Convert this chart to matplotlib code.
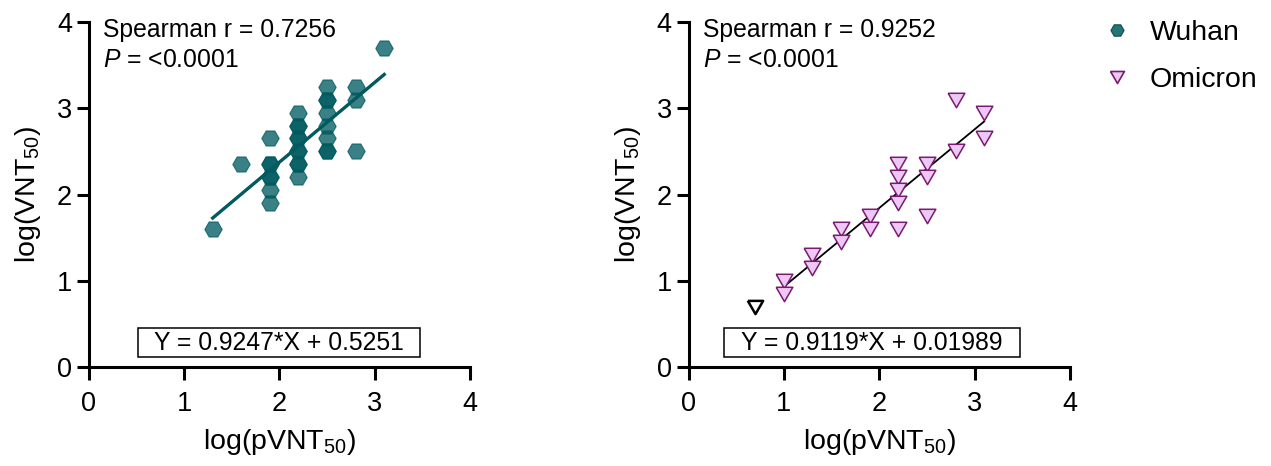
import numpy as np
import matplotlib
matplotlib.use("Agg")
import matplotlib.pyplot as plt
from matplotlib.lines import Line2D
from matplotlib.patches import Rectangle

plt.rcParams['font.family'] = ['Liberation Sans', 'DejaVu Sans']
plt.rcParams['mathtext.fontset'] = 'custom'
plt.rcParams['mathtext.rm'] = 'Liberation Sans'
plt.rcParams['mathtext.it'] = 'Liberation Sans:italic'

# Wuhan: log(pVNT50) vs log(VNT50)
wuhan_x = [1.3, 1.6,
           1.9, 1.9, 1.9, 1.9, 1.9, 1.9, 1.9,
           2.2, 2.2, 2.2, 2.2, 2.2, 2.2, 2.2, 2.2, 2.2, 2.2,
           2.5, 2.5, 2.5, 2.5, 2.5, 2.5, 2.5, 2.5,
           2.8, 2.8, 2.8, 3.1]
wuhan_y = [1.6, 2.35,
           2.65, 2.35, 2.35, 2.2, 2.2, 2.05, 1.9,
           2.95, 2.8, 2.8, 2.65, 2.65, 2.5, 2.5, 2.35, 2.35, 2.2,
           3.25, 3.1, 3.1, 2.95, 2.8, 2.65, 2.5, 2.5,
           3.25, 3.1, 2.5, 3.7]

# Omicron
omicron_x = [1.0, 1.0, 1.3, 1.3, 1.6, 1.6, 1.9, 1.9,
             2.2, 2.2, 2.2, 2.2, 2.2, 2.5, 2.5, 2.5,
             2.8, 2.8, 3.1, 3.1]
omicron_y = [1.0, 0.85, 1.3, 1.15, 1.6, 1.45, 1.75, 1.6,
             2.35, 2.2, 2.05, 1.9, 1.6, 2.35, 2.2, 1.75,
             3.1, 2.5, 2.95, 2.65]
omicron_excl_x = [0.7]
omicron_excl_y = [0.7]

# fit results / stats as printed on the chart
wuhan_fit = (0.9247, 0.5251)
omicron_fit = (0.9119, 0.01989)
wuhan_r = "0.7256"
omicron_r = "0.9252"
p_text = "<0.0001"

teal = '#005a60'
pink_face = '#edc8f5'
pink_edge = '#7a1a70'

# downward equilateral triangle
tri = [(-1, 0.866), (1, 0.866), (0, -0.866), (-1, 0.866)]

fig = plt.figure(figsize=(12.71, 4.66), dpi=100)
W, H = 1271, 466
ax1 = fig.add_axes([88.8 / W, 1 - 367 / H, (470 - 88.8) / W, 345 / H])
ax2 = fig.add_axes([688.5 / W, 1 - 367 / H, (1070 - 688.5) / W, 345 / H])


def style_axis(ax):
    ax.set_xlim(0, 4)
    ax.set_ylim(0, 4)
    ax.set_xticks([0, 1, 2, 3, 4])
    ax.set_yticks([0, 1, 2, 3, 4])
    for s in ['top', 'right']:
        ax.spines[s].set_visible(False)
    for s in ['left', 'bottom']:
        ax.spines[s].set_linewidth(2.2)
    ax.tick_params(axis='both', length=9, width=2.2, labelsize=19.5)
    ax.tick_params(axis='x', pad=8.5)
    ax.tick_params(axis='y', pad=3)
    ax.set_xlabel(r'log(pVNT$_{50}$)', fontsize=20.5, labelpad=7)
    ax.set_ylabel(r'log(VNT$_{50}$)', fontsize=20.5, labelpad=10)


def stats_text(ax, r, eq, box):
    ax.text(0.037, 0.977, f'Spearman r = {r}', transform=ax.transAxes,
            fontsize=17.8, va='center', ha='left')
    ax.text(0.037, 0.890, r'$\it{P}$ = ' + p_text, transform=ax.transAxes,
            fontsize=17.8, va='center', ha='left')
    x0, x1, y0, y1 = box
    ax.add_patch(Rectangle((x0, y0), x1 - x0, y1 - y0, transform=ax.transAxes,
                           fill=False, lw=1.1, ec='black', clip_on=False))
    ax.text((x0 + x1) / 2, (y0 + y1) / 2, eq, transform=ax.transAxes,
            fontsize=17.8, va='center', ha='center')


# left panel
style_axis(ax1)
xs = np.array([min(wuhan_x), max(wuhan_x)])
ax1.plot(xs, wuhan_fit[0] * xs + wuhan_fit[1], color=teal, lw=2.4, zorder=2)
ax1.scatter(wuhan_x, wuhan_y, marker='H', s=12.5 ** 2, color=teal, alpha=0.77,
            linewidths=0.8, zorder=3, clip_on=False)
stats_text(ax1, wuhan_r, 'Y = 0.9247*X + 0.5251', (0.128, 0.870, 0.029, 0.113))

# right panel
style_axis(ax2)
xs = np.array([min(omicron_x), max(omicron_x)])
ax2.plot(xs, omicron_fit[0] * xs + omicron_fit[1], color='black', lw=1.3, zorder=2)
ax2.scatter(omicron_x, omicron_y, marker=tri, s=12 ** 2, facecolor=pink_face,
            edgecolor=pink_edge, linewidths=1.1, zorder=3, clip_on=False)
ax2.scatter(omicron_excl_x, omicron_excl_y, marker=tri, s=11 ** 2, facecolor='white',
            edgecolor='black', linewidths=1.8, zorder=3, clip_on=False)
stats_text(ax2, omicron_r, 'Y = 0.9119*X + 0.01989', (0.092, 0.869, 0.029, 0.113))

# legend
handles = [
    Line2D([], [], ls='none', marker='H', markersize=9.5, color=teal, alpha=0.85,
           markeredgecolor='#003c40', markeredgewidth=0.8),
    Line2D([], [], ls='none', marker=tri, markersize=10, markerfacecolor=pink_face,
           markeredgecolor=pink_edge, markeredgewidth=1.2),
]
fig.legend(handles, ['Wuhan', 'Omicron'], loc='upper left',
           bbox_to_anchor=(1103 / W, 1 - 20 / H), frameon=False, fontsize=20.5,
           handlelength=1.0, handletextpad=0.65, labelspacing=0.75,
           borderaxespad=0, borderpad=0)

fig.savefig('out.png', dpi=100)
